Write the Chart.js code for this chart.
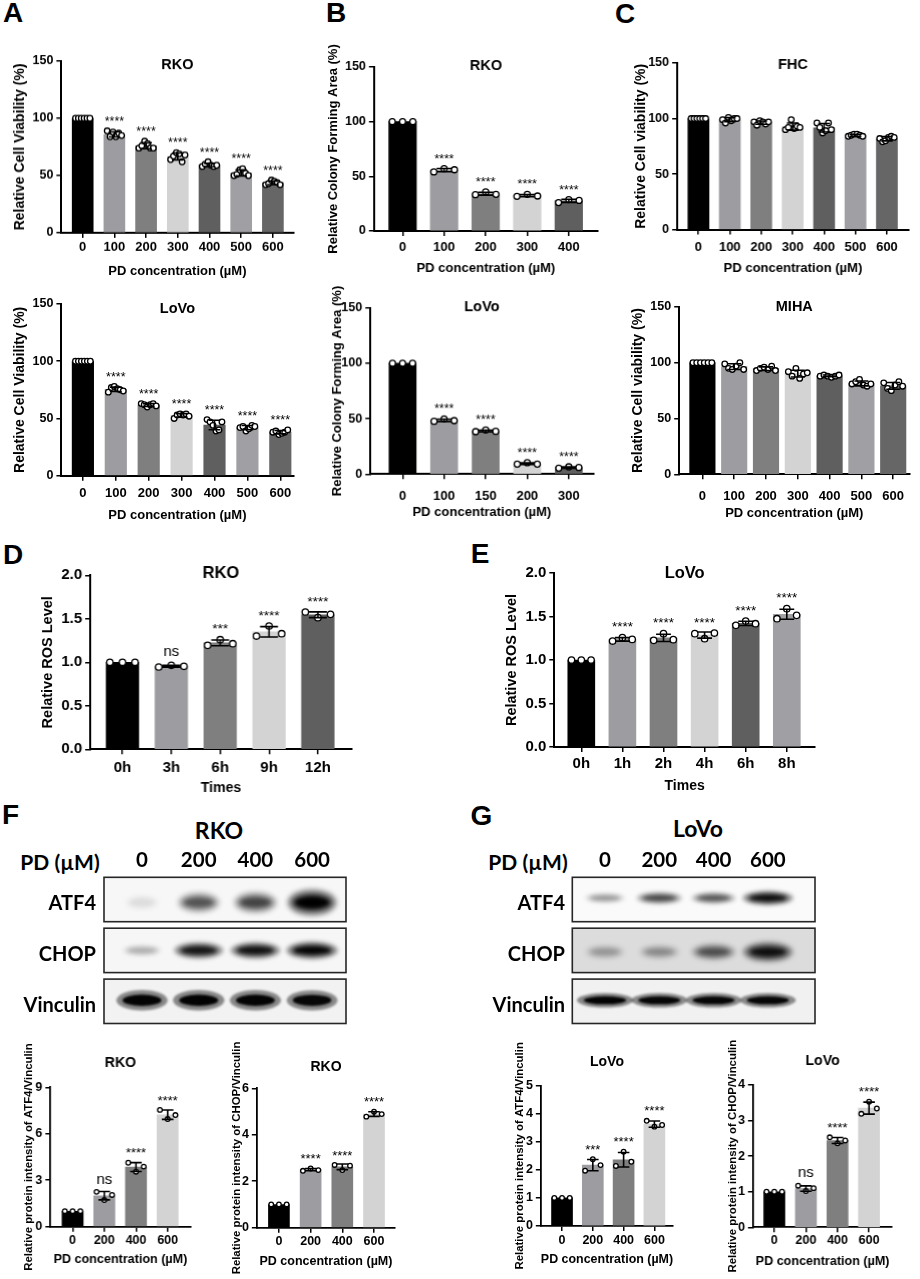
<!DOCTYPE html>
<html>
<head>
<meta charset="utf-8">
<script src="https://cdn.jsdelivr.net/npm/chart.js@4.4.1/dist/chart.umd.min.js"></script>
<style>
  html, body { margin: 0; padding: 0; background: #fff; }
  #fig { position: relative; width: 920px; height: 1279px; overflow: hidden; background: #fff; }
  .box { position: absolute; }
  .lbl { position: absolute; white-space: nowrap; line-height: 1; color: #000; transform: translate(-50%, -50%); }
</style>
</head>
<body>
<div id="fig"></div>
<script>
// ---- categories / tick labels ----
const doseLabels7 = ['0', '100', '200', '300', '400', '500', '600'];
const rkoColonyLabels = ['0', '100', '200', '300', '400'];
const lovoColonyLabels = ['0', '100', '150', '200', '300'];
const rkoTimeLabels = ['0h', '3h', '6h', '9h', '12h'];
const lovoTimeLabels = ['0h', '1h', '2h', '4h', '6h', '8h'];
const blotDoseLabels = ['0', '200', '400', '600'];
const blotRowLabels = ['ATF4', 'CHOP', 'Vinculin'];

// ---- A: cell viability ----
const aRkoMean = [100, 86, 76, 66.7, 59.3, 52.3, 43.7];
const aRkoSd = [0, 2.2, 2.6, 3.0, 1.4, 2.6, 1.6];
const aRkoPts = [
  [100, 100, 100, 100, 100, 100],
  [89, 84, 88, 84, 87, 85],
  [74, 76, 80, 78, 74, 74],
  [64, 67, 70, 69, 62, 68],
  [58, 60, 62, 59, 58, 59],
  [50, 51, 55, 56, 52, 50],
  [42, 43, 46, 45, 44, 42]
];
const aLovoMean = [100, 75.5, 61.8, 52.7, 44.3, 42, 38];
const aLovoSd = [0, 1.9, 1.2, 1.5, 4.1, 1.8, 1.5];
const aLovoPts = [
  [100, 100, 100, 100, 100, 100],
  [73, 77, 78, 76, 75, 74],
  [63, 62, 60, 62, 63, 61],
  [50, 53, 54, 53, 54, 52],
  [49, 47, 44, 39, 40, 47],
  [42, 43, 39, 41, 44, 43],
  [38, 39, 36, 37, 38, 40]
];
const aSig = ['', '****', '****', '****', '****', '****', '****'];

// ---- B: colony forming area ----
const bRkoMean = [100, 55.7, 34.1, 32.4, 27.6];
const bRkoSd = [0, 1.5, 1.3, 1.0, 1.4];
const bRkoPts = [[100, 100, 100], [54, 57, 56], [33.2, 35.7, 33.5], [31.7, 33.5, 32], [26, 28.7, 28]];
const bLovoMean = [100, 48.6, 38.9, 9.4, 6.0];
const bLovoSd = [0, 1.1, 0.8, 0.7, 0.6];
const bLovoPts = [[100, 100, 100], [47.7, 49.8, 48.3], [38.3, 39.8, 38.6], [9, 10.3, 9], [5.4, 6.6, 6]];
const bSig = ['', '****', '****', '****', '****'];

// ---- C: normal cell viability ----
const cFhcMean = [100, 99, 96.3, 92.8, 91.7, 85, 81.8];
const cFhcSd = [0, 1.8, 1.5, 3.2, 3.8, 0.9, 1.9];
const cFhcPts = [
  [100, 100, 100, 100, 100, 100],
  [99, 96, 101, 98, 100, 100],
  [97, 94, 98, 97, 95, 97],
  [90, 92, 99, 91, 93, 92],
  [96, 92, 87, 89, 96, 90],
  [84, 85, 86, 86, 85, 84],
  [82, 79, 80, 83, 84, 83]
];
const cMihaMean = [100, 96.5, 94.7, 90.3, 88.2, 81.5, 79.3];
const cMihaSd = [0, 2.6, 1.6, 3.0, 0.8, 2.2, 3.0];
const cMihaPts = [
  [100, 100, 100, 100, 100, 100],
  [99, 95, 94, 97, 100, 94],
  [93, 95, 96, 94, 97, 93],
  [92, 88, 95, 86, 90, 91],
  [88, 89, 88, 87, 88, 89],
  [81, 83, 85, 80, 79, 81],
  [82, 77, 75, 80, 83, 79]
];
const cSig = ['', '', '', '', '', '', ''];

// ---- D / E: ROS ----
const dMean = [1.0, 0.955, 1.223, 1.35, 1.547];
const dSd = [0, 0.01, 0.033, 0.06, 0.033];
const dPts = [[1, 1, 1], [0.946, 0.965, 0.954], [1.195, 1.26, 1.214], [1.302, 1.417, 1.329], [1.578, 1.513, 1.551]];
const dSig = ['', 'ns', '***', '****', '****'];
const eMean = [1.0, 1.237, 1.254, 1.286, 1.421, 1.526];
const eSd = [0, 0.02, 0.042, 0.035, 0.025, 0.058];
const ePts = [[1, 1, 1], [1.218, 1.257, 1.237], [1.226, 1.303, 1.234], [1.303, 1.245, 1.31], [1.398, 1.448, 1.417], [1.475, 1.59, 1.513]];
const eSig = ['', '****', '****', '****', '****', '****'];

// ---- F / G: blot quantification ----
const fAtf4Mean = [1, 2.0, 3.85, 7.23];
const fAtf4Sd = [0, 0.27, 0.29, 0.3];
const fAtf4Pts = [[1, 1, 1], [2.25, 1.72, 2.05], [4.13, 3.55, 3.88], [7.54, 6.95, 7.21]];
const fAtf4Sig = ['', 'ns', '****', '****'];
const fChopMean = [1, 2.5, 2.62, 4.89];
const fChopSd = [0, 0.05, 0.12, 0.1];
const fChopPts = [[1, 1, 1], [2.45, 2.55, 2.48], [2.7, 2.48, 2.67], [4.78, 4.99, 4.89]];
const fChopSig = ['', '****', '****', '****'];
const gAtf4Mean = [1, 2.17, 2.36, 3.63];
const gAtf4Sd = [0, 0.2, 0.26, 0.11];
const gAtf4Pts = [[1, 1, 1], [1.97, 2.38, 2.17], [2.14, 2.65, 2.29], [3.75, 3.54, 3.6]];
const gAtf4Sig = ['', '***', '****', '****'];
const gChopMean = [1, 1.09, 2.44, 3.35];
const gChopSd = [0, 0.075, 0.085, 0.17];
const gChopPts = [[1, 1, 1], [1.17, 1.02, 1.1], [2.53, 2.36, 2.44], [3.19, 3.53, 3.34]];
const gChopSig = ['', 'ns', '****', '****'];

// ---- blot band intensities (rows: ATF4, CHOP, Vinculin; lanes: 0..600) ----
const rkoBands = [[0.08, 0.55, 0.62, 1.0], [0.22, 0.85, 0.88, 0.97], [0.97, 0.98, 0.97, 0.95]];
const lovoBands = [[0.3, 0.62, 0.55, 0.92], [0.25, 0.3, 0.55, 0.9], [0.97, 0.95, 0.95, 0.95]];

const PALETTE = ['#000000', '#9d9da1', '#7f7f7f', '#d3d3d3', '#5f5f5f', '#a0a0a4', '#666666'];
const SANS = '"Liberation Sans", Arial, Helvetica, sans-serif';
const BLOT = 'Lato, "Open Sans", sans-serif';
const fig = document.getElementById('fig');

function addLabel(text, cx, cy, size, family) {
  const d = document.createElement('div');
  d.className = 'lbl';
  d.textContent = text;
  d.style.left = cx + 'px';
  d.style.top = cy + 'px';
  d.style.fontSize = size + 'px';
  d.style.fontFamily = family;
  d.style.fontWeight = 'bold';
  fig.appendChild(d);
}

function makeCanvas(left, top, width, height) {
  const d = document.createElement('div');
  d.className = 'box';
  d.style.left = left + 'px';
  d.style.top = top + 'px';
  d.style.width = width + 'px';
  d.style.height = height + 'px';
  const c = document.createElement('canvas');
  d.appendChild(c);
  fig.appendChild(d);
  return c;
}

const BAR_STYLE = {
  tl: 5, titleFs: 14.5, yTitleFs: 14, xTitleFs: 13, tickFs: 13, yTickFs: 12.5,
  yMax: 150, yStep: 50, dotR: 2.8, dotW: 1.3, errW: 1.6, capFrac: 0.55,
  starFs: 12.5, nsFs: 15, starGap: 3, nsGap: 6, axisW: 2,
  xTitle: 'PD concentration (µM)', yFmt: v => v
};

function barPanel(g, labels, means, sds, pts, sig) {
  const s = Object.assign({}, BAR_STYLE, g);
  const boxLeft = s.yTitleX - 0.6 * s.yTitleFs;
  const boxTop = s.boxTop !== undefined ? s.boxTop : Math.min(s.top, s.titleY) - 16;
  const boxRight = s.right + 12;
  const boxBottom = s.boxBottom !== undefined ? s.boxBottom : s.xTitleY + 10;
  const yW = s.ax - boxLeft;
  const hX = s.xTitleY - s.bottom + 0.6 * s.xTitleFs;
  const xPad = Math.max(0, s.xLabelY - s.bottom - s.tl - 0.6 * s.tickFs);
  const canvas = makeCanvas(boxLeft, boxTop, boxRight - boxLeft, boxBottom - boxTop);

  // spread the replicate dots across the bar
  const spreadU = (s.barW - 2 * s.dotR - 1) / s.step;
  const dots = [];
  pts.forEach((grp, i) => grp.forEach((v, k) => {
    const off = grp.length > 1 ? (k / (grp.length - 1) - 0.5) * spreadU : 0;
    dots.push({ x: i + off, y: v });
  }));

  const deco = {
    id: 'deco',
    afterDatasetsDraw(chart) {
      const ctx = chart.ctx, ys = chart.scales.y, area = chart.chartArea;
      const bars = chart.getDatasetMeta(0).data;
      ctx.save();
      ctx.strokeStyle = '#000';
      ctx.fillStyle = '#000';
      ctx.lineWidth = s.errW;
      bars.forEach((bar, i) => {
        const m = means[i], sd = sds[i], x = bar.x, cap = s.barW * s.capFrac / 2;
        const y1 = ys.getPixelForValue(m + sd);
        if (sd > 0) {
          const y2 = ys.getPixelForValue(m - sd);
          ctx.beginPath();
          ctx.moveTo(x, y2); ctx.lineTo(x, y1);
          ctx.moveTo(x - cap, y1); ctx.lineTo(x + cap, y1);
          ctx.moveTo(x - cap, y2); ctx.lineTo(x + cap, y2);
          ctx.stroke();
        }
        const topPx = Math.min(y1, ys.getPixelForValue(Math.max(...pts[i])) - s.dotR);
        if (sig[i]) {
          ctx.textAlign = 'center';
          ctx.textBaseline = 'alphabetic';
          if (sig[i] === 'ns') {
            ctx.font = s.nsFs + 'px ' + SANS;
            ctx.fillText(sig[i], x, topPx - s.nsGap);
          } else {
            ctx.font = s.starFs + 'px ' + SANS;
            ctx.fillText(sig[i], x, topPx - s.starGap);
          }
        }
      });
      ctx.font = 'bold ' + s.titleFs + 'px ' + SANS;
      ctx.textAlign = 'center';
      ctx.textBaseline = 'middle';
      ctx.fillText(s.title, (area.left + area.right) / 2, s.titleY - boxTop);
      ctx.restore();
    }
  };

  const axisGrid = { drawOnChartArea: false, drawTicks: true, tickLength: s.tl, color: '#000', lineWidth: 1.5, offset: false };
  const axisBorder = { color: '#000', width: s.axisW };

  new Chart(canvas, {
    type: 'bar',
    data: {
      datasets: [
        {
          type: 'bar', order: 2,
          data: means.map((m, i) => ({ x: i, y: m })),
          backgroundColor: PALETTE.slice(0, means.length),
          borderWidth: 0, barThickness: s.barW
        },
        {
          type: 'scatter', order: 1, data: dots,
          pointRadius: s.dotR, pointBackgroundColor: '#fff',
          pointBorderColor: '#000', pointBorderWidth: s.dotW
        }
      ]
    },
    options: {
      responsive: true, maintainAspectRatio: false, animation: false, events: [],
      layout: { padding: { top: s.top - boxTop, bottom: boxBottom - s.bottom - hX, left: 0, right: boxRight - s.right } },
      plugins: { legend: { display: false }, tooltip: { enabled: false } },
      scales: {
        x: {
          type: 'linear', offset: false,
          min: (s.ax - s.firstX) / s.step, max: (s.right - s.firstX) / s.step,
          afterBuildTicks: sc => { sc.ticks = labels.map((_, i) => ({ value: i })); },
          afterFit: sc => { sc.height = hX; },
          ticks: {
            callback: v => labels[v], autoSkip: false, maxRotation: 0, color: '#000', padding: xPad,
            font: { family: SANS, size: s.tickFs, weight: 'bold' }
          },
          grid: axisGrid, border: axisBorder,
          title: { display: true, text: s.xTitle, color: '#000', padding: 0, font: { family: SANS, size: s.xTitleFs, weight: 'bold' } }
        },
        y: {
          min: 0, max: s.yMax,
          afterFit: sc => { sc.width = yW; },
          ticks: {
            stepSize: s.yStep, callback: s.yFmt, color: '#000', padding: 3,
            font: { family: SANS, size: s.yTickFs, weight: 'bold' }
          },
          grid: axisGrid, border: axisBorder,
          title: { display: true, text: s.yTitle, color: '#000', padding: 0, font: { family: SANS, size: s.yTitleFs, weight: 'bold' } }
        }
      }
    },
    plugins: [deco]
  });
}

function blotPanel(g, laneLabels, rowLabels, rowBands) {
  const canvas = makeCanvas(g.cLeft, g.cTop, g.cRight - g.cLeft, g.cBottom - g.cTop);
  const areaTop = g.rowTop - (g.rowPitch - g.rowH) / 2;
  const areaBottom = areaTop + g.rowPitch * rowLabels.length;
  const bandData = [];
  rowBands.forEach((row, r) => row.forEach((b, j) => bandData.push({ x: j, y: r, b: b })));
  const laneFs = 20.5, rowFs = 20;

  function drawBand(ctx, x, y, b, shape) {
    const rx = shape.rx * (0.72 + 0.38 * b), ry = shape.ry * (0.55 + 0.55 * b);
    ctx.filter = 'blur(' + shape.blur + 'px)';
    ctx.fillStyle = 'rgba(0,0,0,' + (0.45 * b) + ')';
    ctx.beginPath(); ctx.ellipse(x, y, rx * 1.12, ry * 1.35, 0, 0, Math.PI * 2); ctx.fill();
    ctx.fillStyle = 'rgba(0,0,0,' + b + ')';
    ctx.beginPath(); ctx.ellipse(x, y, rx * 0.85, ry * 0.75, 0, 0, Math.PI * 2); ctx.fill();
    ctx.filter = 'none';
  }

  const blot = {
    id: 'blot',
    beforeDatasetsDraw(chart) {
      const ctx = chart.ctx, xs = chart.scales.x, ys = chart.scales.y;
      const els = chart.getDatasetMeta(0).data;
      rowLabels.forEach((_, r) => {
        const cy = ys.getPixelForValue(r);
        const top = cy - g.rowH / 2, left = xs.left, w = xs.right - xs.left;
        ctx.save();
        ctx.fillStyle = g.rowBg[r];
        ctx.fillRect(left, top, w, g.rowH);
        ctx.beginPath(); ctx.rect(left, top, w, g.rowH); ctx.clip();
        els.forEach((el, k) => {
          if (bandData[k].y !== r) return;
          const shape = g.shapes[r];
          drawBand(ctx, el.x, el.y + shape.dy, bandData[k].b, shape);
        });
        ctx.restore();
        ctx.save();
        ctx.strokeStyle = '#262626';
        ctx.lineWidth = 1.6;
        ctx.strokeRect(left, top, w, g.rowH);
        ctx.restore();
      });
    }
  };

  new Chart(canvas, {
    type: 'scatter',
    data: { datasets: [{ data: bandData, pointRadius: 0 }] },
    options: {
      responsive: true, maintainAspectRatio: false, animation: false, events: [],
      layout: { padding: { top: 0, left: 0, right: g.cRight - g.x1, bottom: g.cBottom - areaBottom } },
      plugins: { legend: { display: false }, tooltip: { enabled: false } },
      scales: {
        x: {
          type: 'linear', position: 'top',
          min: (g.x0 - g.lane0) / g.pitch, max: (g.x1 - g.lane0) / g.pitch,
          afterBuildTicks: sc => { sc.ticks = laneLabels.map((_, i) => ({ value: i })); },
          afterFit: sc => { sc.height = areaTop - g.cTop; },
          ticks: {
            callback: v => laneLabels[v], autoSkip: false, maxRotation: 0, color: '#000',
            padding: Math.max(0, areaTop - g.laneLabelY - 0.6 * laneFs),
            font: { family: BLOT, size: laneFs, weight: 'bold' }
          },
          grid: { display: false, drawTicks: false }, border: { display: false }
        },
        y: {
          type: 'linear', reverse: true, min: -0.5, max: rowLabels.length - 0.5,
          afterBuildTicks: sc => { sc.ticks = rowLabels.map((_, i) => ({ value: i })); },
          afterFit: sc => { sc.width = g.x0 - g.cLeft; },
          ticks: {
            callback: v => rowLabels[v], color: '#000', padding: g.x0 - g.labelRight, labelOffset: 4,
            font: { family: BLOT, size: rowFs, weight: 'bold' }
          },
          grid: { display: false, drawTicks: false }, border: { display: false }
        }
      }
    },
    plugins: [blot]
  });
}

// ---- panel letters ----
addLabel('A', 13, 13, 28, SANS);
addLabel('B', 336, 13, 28, SANS);
addLabel('C', 625, 14, 28, SANS);
addLabel('D', 13, 555, 28, SANS);
addLabel('E', 480, 554, 28, SANS);
addLabel('F', 10.5, 815, 28, SANS);
addLabel('G', 481.5, 816, 28, SANS);

// ---- A ----
barPanel({ ax: 61, top: 61, bottom: 232, right: 293, firstX: 82.3, step: 31.7, barW: 21,
  title: 'RKO', titleY: 65, yTitle: 'Relative Cell Viability (%)', yTitleX: 20, xTitleY: 270.7, xLabelY: 246.7 },
  doseLabels7, aRkoMean, aRkoSd, aRkoPts, aSig);
barPanel({ ax: 61, top: 304, bottom: 475.7, right: 293, firstX: 82.5, step: 32.9, barW: 21.5,
  title: 'LoVo', titleY: 309, yTitle: 'Relative Cell Viability (%)', yTitleX: 20, xTitleY: 515, xLabelY: 493 },
  doseLabels7, aLovoMean, aLovoSd, aLovoPts, aSig);

// ---- B ----
barPanel({ ax: 374, top: 67, bottom: 231, right: 597, firstX: 402.5, step: 41.4, barW: 27.5, dotR: 3,
  title: 'RKO', titleY: 65.7, yTitle: 'Relative Colony Forming Area (%)', yTitleX: 334, yTitleFs: 13,
  xTitleY: 268, xLabelY: 247, boxTop: 34 },
  rkoColonyLabels, bRkoMean, bRkoSd, bRkoPts, bSig);
barPanel({ ax: 370.4, top: 307.7, bottom: 473.3, right: 592.6, firstX: 402.5, step: 41.4, barW: 27, dotR: 3,
  title: 'LoVo', titleY: 306.7, yTitle: 'Relative Colony Forming Area (%)', yTitleX: 338, yTitleFs: 13,
  xTitleY: 511.7, xLabelY: 495, boxTop: 280 },
  lovoColonyLabels, bLovoMean, bLovoSd, bLovoPts, bSig);

// ---- C ----
barPanel({ ax: 677.3, top: 62.7, bottom: 229.3, right: 908, firstX: 698.5, step: 31.3, barW: 21,
  title: 'FHC', titleY: 65, yTitle: 'Relative Cell viability (%)', yTitleX: 641.7, xTitleY: 268.3, xLabelY: 246.7 },
  doseLabels7, cFhcMean, cFhcSd, cFhcPts, cSig);
barPanel({ ax: 678.8, top: 306.7, bottom: 474, right: 909, firstX: 702, step: 31.8, barW: 25.5,
  title: 'MIHA', titleY: 306.7, yTitle: 'Relative Cell viability (%)', yTitleX: 638, xTitleY: 513, xLabelY: 496 },
  doseLabels7, cMihaMean, cMihaSd, cMihaPts, cSig);

// ---- D / E ----
const rosStyle = { titleFs: 16.5, yTitleFs: 14.5, xTitleFs: 14, tickFs: 15, yTickFs: 15, yMax: 2, yStep: 0.5,
  dotR: 3.2, starFs: 13.5, nsFs: 15, xTitle: 'Times', yTitle: 'Relative ROS Level', yFmt: v => v.toFixed(1) };
barPanel(Object.assign({}, rosStyle, { ax: 90, top: 575, bottom: 749, right: 350.7, firstX: 122.2, step: 48.7, barW: 32.5,
  title: 'RKO', titleY: 572.7, yTitleX: 47.7, xTitleY: 787.5, xLabelY: 767.3 }),
  rkoTimeLabels, dMean, dSd, dPts, dSig);
barPanel(Object.assign({}, rosStyle, { ax: 554.3, top: 572.7, bottom: 746.7, right: 815, firstX: 581.3, step: 41.1, barW: 27,
  title: 'LoVo', titleY: 573.3, yTitleX: 511.7, xTitleY: 785.5, xLabelY: 763.3 }),
  lovoTimeLabels, eMean, eSd, ePts, eSig);

// ---- F / G blots ----
addLabel('RKO', 219, 830, 23, BLOT);
addLabel('PD (µM)', 60, 860.5, 21, BLOT);
blotPanel({ cLeft: 10, cTop: 842, cRight: 352, cBottom: 1056, x0: 104, x1: 346, lane0: 142, pitch: 56.7,
  rowTop: 877.3, rowH: 44.4, rowPitch: 50.9, labelRight: 96, laneLabelY: 860.5,
  rowBg: ['#f7f7f7', '#f6f6f6', '#f2f2f2'],
  shapes: [{ rx: 20, ry: 9, dy: 3, blur: 2.5 }, { rx: 21, ry: 6, dy: 0, blur: 2 }, { rx: 21, ry: 7, dy: -1, blur: 1.2 }] },
  blotDoseLabels, blotRowLabels, rkoBands);

addLabel('LoVo', 698, 827.5, 23, BLOT);
addLabel('PD (µM)', 528, 860.5, 21, BLOT);
blotPanel({ cLeft: 478, cTop: 842, cRight: 821, cBottom: 1056, x0: 572.3, x1: 815, lane0: 605, pitch: 54.3,
  rowTop: 877.3, rowH: 44.4, rowPitch: 50.9, labelRight: 565, laneLabelY: 860.5,
  rowBg: ['#fafafa', '#dcdcdc', '#f1f1f1'],
  shapes: [{ rx: 21, ry: 5, dy: -1.5, blur: 2 }, { rx: 21, ry: 7, dy: 1.5, blur: 2.5 }, { rx: 23, ry: 5, dy: -1, blur: 1.2 }] },
  blotDoseLabels, blotRowLabels, lovoBands);

// ---- F / G quantification ----
const wbStyle = { titleFs: 14, yTitleFs: 11.4, xTitleFs: 12.5, tickFs: 12.5, yTickFs: 12.5, dotR: 2.3,
  starFs: 13, nsFs: 15, axisW: 1.8, boxTop: 1034, boxBottom: 1279 };
barPanel(Object.assign({}, wbStyle, { ax: 50.7, top: 1087.3, bottom: 1226.7, right: 190, firstX: 72.8, step: 31.5, barW: 21,
  title: 'RKO', titleY: 1063.3, yTitle: 'Relative protein intensity of ATF4/Vinculin', yTitleX: 29.3,
  xTitleY: 1260, xLabelY: 1240.7, yMax: 9, yStep: 3 }),
  blotDoseLabels, fAtf4Mean, fAtf4Sd, fAtf4Pts, fAtf4Sig);
barPanel(Object.assign({}, wbStyle, { ax: 256.7, top: 1088.3, bottom: 1227.7, right: 395, firstX: 278.8, step: 31.7, barW: 21,
  title: 'RKO', titleY: 1067.3, yTitle: 'Relative protein intensity of CHOP/Vinculin', yTitleX: 236.7,
  xTitleY: 1261.7, xLabelY: 1241.7, yMax: 6, yStep: 2 }),
  blotDoseLabels, fChopMean, fChopSd, fChopPts, fChopSig);
barPanel(Object.assign({}, wbStyle, { ax: 541, top: 1085.7, bottom: 1226, right: 673.3, firstX: 562.2, step: 30.8, barW: 21,
  title: 'LoVo', titleY: 1062.3, yTitle: 'Relative protein intensity of ATF4/Vinculin', yTitleX: 520,
  xTitleY: 1260, xLabelY: 1240.7, yMax: 5, yStep: 1 }),
  blotDoseLabels, gAtf4Mean, gAtf4Sd, gAtf4Pts, gAtf4Sig);
barPanel(Object.assign({}, wbStyle, { ax: 753.3, top: 1085, bottom: 1227.3, right: 891.7, firstX: 774.5, step: 31.4, barW: 21,
  title: 'LoVo', titleY: 1060.7, yTitle: 'Relative protein intensity of CHOP/Vinculin', yTitleX: 733.3,
  xTitleY: 1261.7, xLabelY: 1240.7, yMax: 4, yStep: 1 }),
  blotDoseLabels, gChopMean, gChopSd, gChopPts, gChopSig);
</script>
</body>
</html>
